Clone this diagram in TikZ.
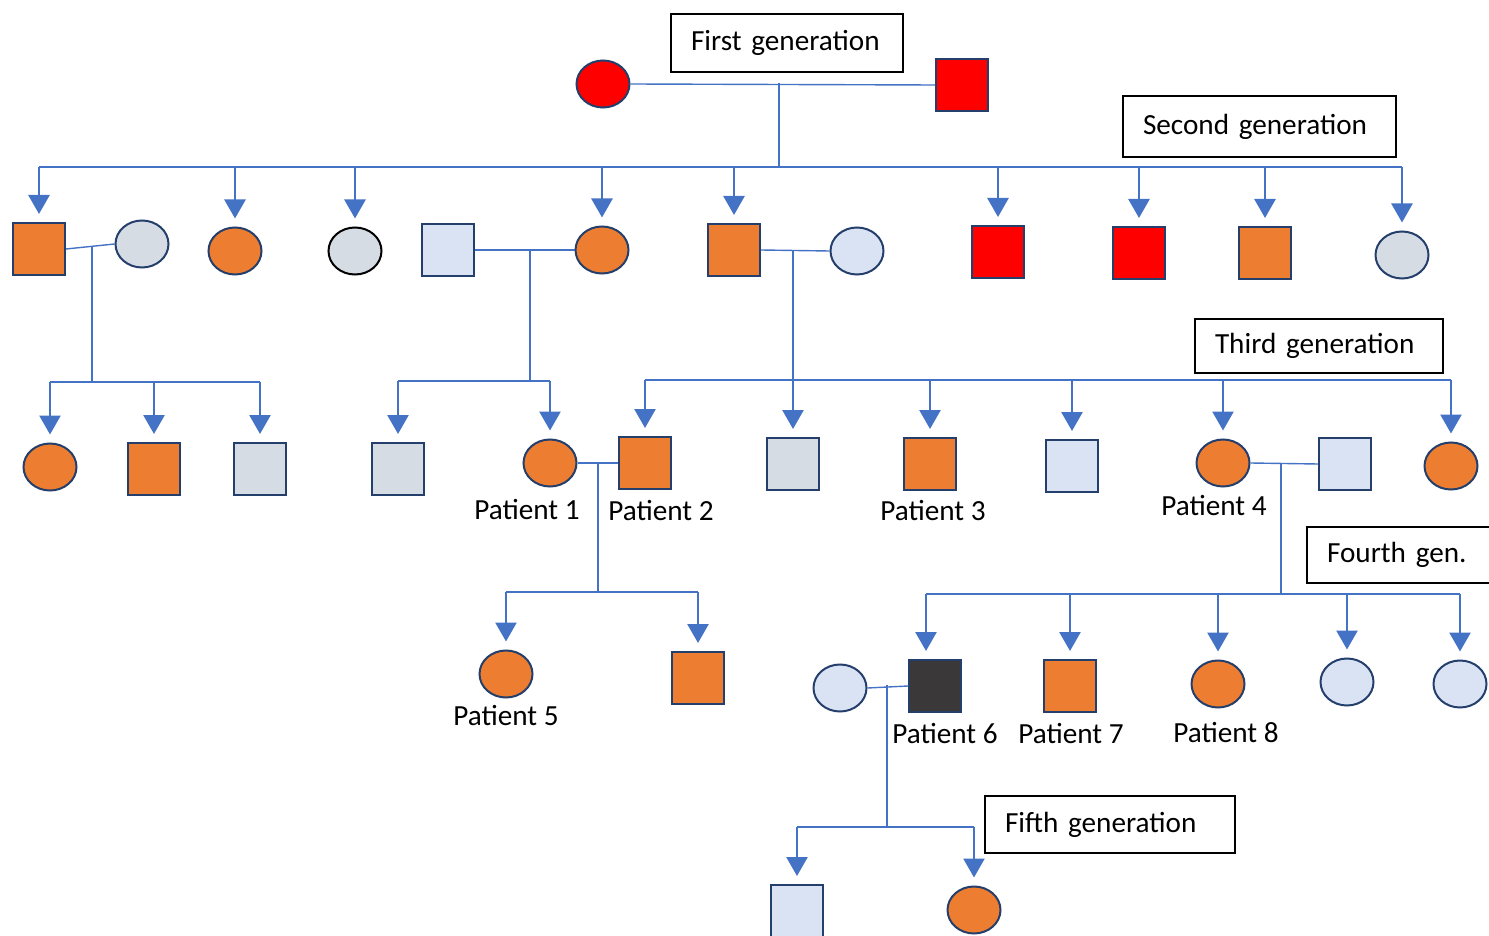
\documentclass[tikz,border=0pt]{standalone}
\usepackage{fontspec}
\setmainfont{Carlito}
\usepackage{xcolor}
\usepackage{tikz}
\usetikzlibrary{arrows.meta, positioning, calc, shapes.geometric}

\definecolor{lineblue}{HTML}{4472C4}
\definecolor{edgeblue}{HTML}{243F6B}
\definecolor{orangefill}{HTML}{ED7D31}
\definecolor{greyfill}{HTML}{D6DCE4}
\definecolor{bluefill}{HTML}{DAE3F3}
\definecolor{redfill}{HTML}{FF0000}
\definecolor{darkfill}{HTML}{3A3838}

\begin{document}
\begin{tikzpicture}[x=0.5pt, y=-0.5pt, font=\fontsize{14.6}{17}\selectfont,
    person/.style={draw=edgeblue, line width=1pt, inner sep=0pt},
    male/.style={person, rectangle, minimum size=26pt},
    female/.style={person, ellipse, minimum width=26.5pt, minimum height=23.5pt},
    couple/.style={draw=lineblue, line width=0.7pt},
    kid/.style={draw=lineblue, line width=1.3pt, -{Triangle[width=10.5pt,length=9.5pt]}, shorten >=4pt},
    genbox/.style={draw=black, line width=1pt, fill=white, inner xsep=10pt, inner ysep=0pt, align=left},
    lbl/.style={inner sep=0pt}]

    \useasboundingbox (0,0) rectangle (1489,936);

    % first generation
    \node[female, fill=redfill] (g1f) at (603,84) {};
    \node[male, fill=redfill] (g1m) at (962,85) {};
    \node[genbox, text width=96pt, minimum height=29pt] (gen1) at (787,43) {First generation};

    % second generation
    \node[male, fill=orangefill] (a1) at (39,249) {};
    \node[female, fill=greyfill] (a1w) at (142,244) {};
    \node[female, fill=orangefill] (a2) at (235,251) {};
    \node[female, fill=greyfill, draw=black] (a3) at (355,251) {};
    \node[male, fill=bluefill] (a4h) at (448,250) {};
    \node[female, fill=orangefill] (a4) at (602,250) {};
    \node[male, fill=orangefill] (a5) at (734,250) {};
    \node[female, fill=bluefill] (a5w) at (857,251) {};
    \node[male, fill=redfill] (a6) at (998,252) {};
    \node[male, fill=redfill] (a7) at (1139,253) {};
    \node[male, fill=orangefill] (a8) at (1265,253) {};
    \node[female, fill=greyfill] (a9) at (1402,255) {};
    \node[genbox, text width=116.5pt, minimum height=30.5pt] (gen2) at (1259.5,126.5) {Second generation};

    % third generation
    \node[female, fill=orangefill] (b1) at (50,467) {};
    \node[male, fill=orangefill] (b2) at (154,469) {};
    \node[male, fill=greyfill] (b3) at (260,469) {};
    \node[male, fill=greyfill] (b4) at (398,469) {};
    \node[female, fill=orangefill] (b5) at (550,463) {};
    \node[male, fill=orangefill] (c1) at (645,463) {};
    \node[male, fill=greyfill] (c2) at (793,464) {};
    \node[male, fill=orangefill] (c3) at (930,464) {};
    \node[male, fill=bluefill] (c4) at (1072,466) {};
    \node[female, fill=orangefill] (c5) at (1223,463) {};
    \node[male, fill=bluefill] (c5h) at (1345,464) {};
    \node[female, fill=orangefill] (c6) at (1451,466) {};
    \node[genbox, text width=104pt, minimum height=27pt] (gen3) at (1319,346) {Third generation};

    \node[lbl] (p1) at (527,510) {Patient 1};
    \node[lbl] (p2) at (661,511) {Patient 2};
    \node[lbl] (p3) at (933,511) {Patient 3};
    \node[lbl] (p4) at (1214,506) {Patient 4};

    % fourth generation
    \node[female, fill=orangefill] (d1) at (506,674) {};
    \node[male, fill=orangefill] (d2) at (698,678) {};
    \node[female, fill=bluefill] (e1w) at (840,688) {};
    \node[male, fill=darkfill] (e1) at (935,686) {};
    \node[male, fill=orangefill] (e2) at (1070,686) {};
    \node[female, fill=orangefill] (e3) at (1218,684) {};
    \node[female, fill=bluefill] (e4) at (1347,682) {};
    \node[female, fill=bluefill] (e5) at (1460,684) {};
    \node[genbox, text width=72pt, minimum height=28pt] (gen4) at (1399,555) {Fourth gen.};

    \node[lbl] (p5) at (506,716) {Patient 5};
    \node[lbl] (p6) at (945,734) {Patient 6};
    \node[lbl] (p7) at (1071,734) {Patient 7};
    \node[lbl] (p8) at (1226,733) {Patient 8};

    % fifth generation
    \node[male, fill=bluefill] (f1) at (797,911) {};
    \node[female, fill=orangefill] (f2) at (974,910) {};
    \node[genbox, text width=105pt, minimum height=28.5pt] (gen5) at (1110,824.5) {Fifth generation};

    % junctions and sibling bars
    \coordinate (j1) at (779,83);   \coordinate (bar1) at (0,167);
    \coordinate (j2) at (92,246);   \coordinate (bar2) at (0,382);
    \coordinate (j3) at (530,249);  \coordinate (bar3) at (0,381);
    \coordinate (j4) at (793,251);  \coordinate (bar4) at (0,380);
    \coordinate (j5) at (598,463);  \coordinate (bar5) at (0,592);
    \coordinate (j6) at (1281,463); \coordinate (bar6) at (0,594);
    \coordinate (j7) at (887,685);  \coordinate (bar7) at (0,827);

    % couples
    \draw[couple] (g1f.east) -- (g1m.west);
    \draw[couple] (a1.east) -- (a1w.west);
    \draw[couple] (a4h.east) -- (a4.west);
    \draw[couple] (a5.east) -- (a5w.west);
    \draw[couple] (b5.east) -- (c1.west);
    \draw[couple] (c5.east) -- (c5h.west);
    \draw[couple] (e1w.east) -- (e1.west);

    % descent lines
    \draw[couple] (j1) -- (j1 |- bar1);
    \draw[couple] (a1 |- bar1) -- (a9 |- bar1);
    \foreach \k in {a1,a2,a3,a4,a5,a6,a7,a8,a9}
        \draw[kid] (\k |- bar1) -- (\k);

    \draw[couple] (j2) -- (j2 |- bar2);
    \draw[couple] (b1 |- bar2) -- (b3 |- bar2);
    \foreach \k in {b1,b2,b3}
        \draw[kid] (\k |- bar2) -- (\k);

    \draw[couple] (j3) -- (j3 |- bar3);
    \draw[couple] (b4 |- bar3) -- (b5 |- bar3);
    \foreach \k in {b4,b5}
        \draw[kid] (\k |- bar3) -- (\k);

    \draw[couple] (j4) -- (j4 |- bar4);
    \draw[couple] (c1 |- bar4) -- (c6 |- bar4);
    \foreach \k in {c1,c2,c3,c4,c5,c6}
        \draw[kid] (\k |- bar4) -- (\k);

    \draw[couple] (j5) -- (j5 |- bar5);
    \draw[couple] (d1 |- bar5) -- (d2 |- bar5);
    \foreach \k in {d1,d2}
        \draw[kid] (\k |- bar5) -- (\k);

    \draw[couple] (j6) -- (j6 |- bar6);
    \draw[couple] ([xshift=-4.5pt]e1 |- bar6) -- (e5 |- bar6);
    \draw[kid] ([xshift=-4.5pt]e1 |- bar6) -- ([xshift=-4.5pt]e1.north);
    \foreach \k in {e2,e3,e4,e5}
        \draw[kid] (\k |- bar6) -- (\k);

    \draw[couple] (j7) -- (j7 |- bar7);
    \draw[couple] (f1 |- bar7) -- (f2 |- bar7);
    \foreach \k in {f1,f2}
        \draw[kid] (\k |- bar7) -- (\k);

\end{tikzpicture}
\end{document}
